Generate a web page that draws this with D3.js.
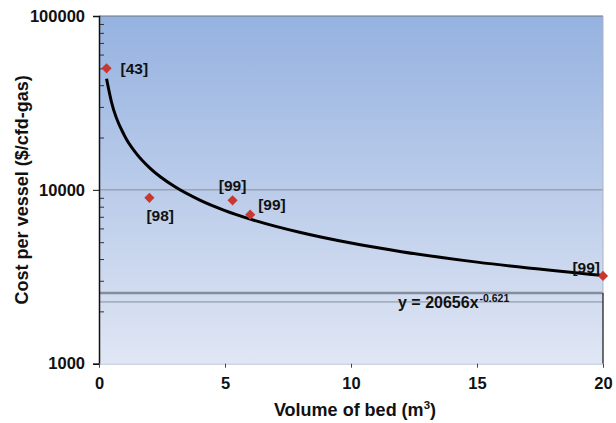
<!DOCTYPE html>
<html>
<head>
<meta charset="utf-8">
<script src="https://cdn.jsdelivr.net/npm/d3@7"></script>
<style>
  body { margin: 0; background: #fff; }
  text { font-family: "Liberation Sans", Arial, sans-serif; font-weight: bold; fill: #111; }
</style>
</head>
<body>
<div id="chart"></div>
<script>
// points (volume of bed, cost per vessel) + reference
const bedVolume = [0.3, 2, 5.3, 6, 20];
const costPerVessel = [50000, 9000, 8700, 7200, 3200];
const refLabels = ["[43]", "[98]", "[99]", "[99]", "[99]"];

// power trendline
const trendX = [0.3, 0.5, 1, 1.5, 2, 3, 4, 5, 6, 8, 10, 12, 15, 20];
const trendY = [43600, 31800, 20650, 16060, 13430, 10440, 8730, 7600, 6790, 5680, 4940, 4410, 3840, 3215];
const trendEquation = "y = 20656x";
const trendExponent = "-0.621";

// stray horizontal lines seen in the plot
const extraLines = [2550, 2270];

const xTicks = [0, 5, 10, 15, 20];
const yTicks = [1000, 10000, 100000];

const width = 616, height = 423;
const margin = {top: 16, right: 13, bottom: 60, left: 99};

const svg = d3.select("#chart").append("svg")
  .attr("width", width)
  .attr("height", height);

const x = d3.scaleLinear().domain([0, 20]).range([margin.left, width - margin.right]);
const y = d3.scaleLog().domain([1000, 100000]).range([height - margin.bottom + 0.7, margin.top]);

// background gradient
const grad = svg.append("defs").append("linearGradient")
  .attr("id", "bg").attr("x1", 0).attr("y1", 0).attr("x2", 0).attr("y2", 1);
grad.append("stop").attr("offset", "0%").attr("stop-color", "#95b2e0");
grad.append("stop").attr("offset", "100%").attr("stop-color", "#e0e6f4");

svg.append("rect")
  .attr("x", x(0)).attr("y", y(100000))
  .attr("width", x(20) - x(0)).attr("height", y(1000) - y(100000))
  .attr("fill", "url(#bg)");

// grid lines
svg.append("line")
  .attr("x1", x(0)).attr("x2", x(20)).attr("y1", y(10000)).attr("y2", y(10000))
  .attr("stroke", "#9aa3b4").attr("stroke-width", 1.5);
svg.append("line")
  .attr("x1", x(0)).attr("x2", x(20)).attr("y1", y(100000)).attr("y2", y(100000))
  .attr("stroke", "#6f737a").attr("stroke-width", 1.2);
svg.selectAll(".extra").data(extraLines).join("line")
  .attr("x1", x(0)).attr("x2", x(20))
  .attr("y1", d => y(d)).attr("y2", d => y(d))
  .attr("stroke", (d, i) => i === 0 ? "#858d9c" : "#a6afbf")
  .attr("stroke-width", (d, i) => i === 0 ? 2.5 : 1.8);

// right edge
svg.append("line")
  .attr("x1", x(20)).attr("x2", x(20)).attr("y1", y(100000)).attr("y2", y(extraLines[0]))
  .attr("stroke", "#a9b2c2").attr("stroke-width", 1);
svg.append("line")
  .attr("x1", x(20)).attr("x2", x(20)).attr("y1", y(extraLines[0])).attr("y2", y(1000))
  .attr("stroke", "#111").attr("stroke-width", 1.2);

// y axis
const minorTicks = y.ticks().filter(d => yTicks.indexOf(d) < 0);
svg.append("g")
  .attr("transform", `translate(${x(0)},0)`)
  .call(d3.axisLeft(y).tickValues(minorTicks).tickSize(-5).tickFormat(""))
  .call(g => g.select(".domain").remove())
  .call(g => g.selectAll("line").attr("stroke", "#333").attr("stroke-width", 1));

svg.append("g")
  .attr("transform", `translate(${x(0)},0)`)
  .call(d3.axisLeft(y).tickValues(yTicks).tickSize(6).tickPadding(8).tickFormat(d3.format("d")))
  .call(g => g.select(".domain").attr("stroke", "#111").attr("stroke-width", 1.5))
  .call(g => g.selectAll("line").attr("stroke", "#111"))
  .call(g => g.selectAll("text").attr("font-size", 16.5).attr("font-family", null).attr("fill", "#111"));

// x axis
svg.append("g")
  .attr("transform", `translate(0,${y(1000)})`)
  .call(d3.axisBottom(x).tickValues(xTicks).tickSize(4).tickPadding(10).tickFormat(d3.format("d")))
  .call(g => g.select(".domain").attr("stroke", "#b9c3d6").attr("stroke-width", 1))
  .call(g => g.selectAll("line").attr("stroke", "#444"))
  .call(g => g.selectAll("text").attr("font-size", 16.5).attr("font-family", null).attr("fill", "#111"));

// trendline
const line = d3.line()
  .x((d, i) => x(trendX[i]))
  .y(d => y(d))
  .curve(d3.curveMonotoneX);
svg.append("path")
  .attr("d", line(trendY))
  .attr("fill", "none")
  .attr("stroke", "#000")
  .attr("stroke-width", 3);

// markers (square turned 45 degrees)
svg.selectAll(".pt").data(costPerVessel).join("path")
  .attr("d", d3.symbol(d3.symbolSquare, 52))
  .attr("transform", (d, i) => `translate(${x(bedVolume[i])},${y(d)}) rotate(45)`)
  .attr("fill", "#c9382f");

// reference labels
const labelOffsets = [[14, 0, "start"], [-3, 18, "start"], [0, -15, "middle"], [8, -10, "start"], [-3, -8, "end"]];
svg.selectAll(".lbl").data(refLabels).join("text")
  .attr("x", (d, i) => x(bedVolume[i]) + labelOffsets[i][0])
  .attr("y", (d, i) => y(costPerVessel[i]) + labelOffsets[i][1])
  .attr("dy", "0.35em")
  .attr("text-anchor", (d, i) => labelOffsets[i][2])
  .attr("font-size", 15.5)
  .text(d => d);

// equation
const eq = svg.append("text")
  .attr("x", 398).attr("y", 308)
  .attr("font-size", 16);
eq.append("tspan").text(trendEquation);
eq.append("tspan").attr("font-size", 10.5).attr("dy", -6).attr("dx", 1).text(trendExponent);

// axis titles
svg.append("text")
  .attr("transform", `translate(28,${(y(1000) + y(100000)) / 2}) rotate(-90)`)
  .attr("text-anchor", "middle")
  .attr("font-size", 18)
  .text("Cost per vessel ($/cfd-gas)");

const xt = svg.append("text")
  .attr("x", (x(0) + x(20)) / 2 + 4).attr("y", 416)
  .attr("text-anchor", "middle")
  .attr("font-size", 18);
xt.append("tspan").text("Volume of bed (m");
xt.append("tspan").attr("font-size", 11.5).attr("dy", -7).text("3");
xt.append("tspan").attr("dy", 7).text(")");
</script>
</body>
</html>
